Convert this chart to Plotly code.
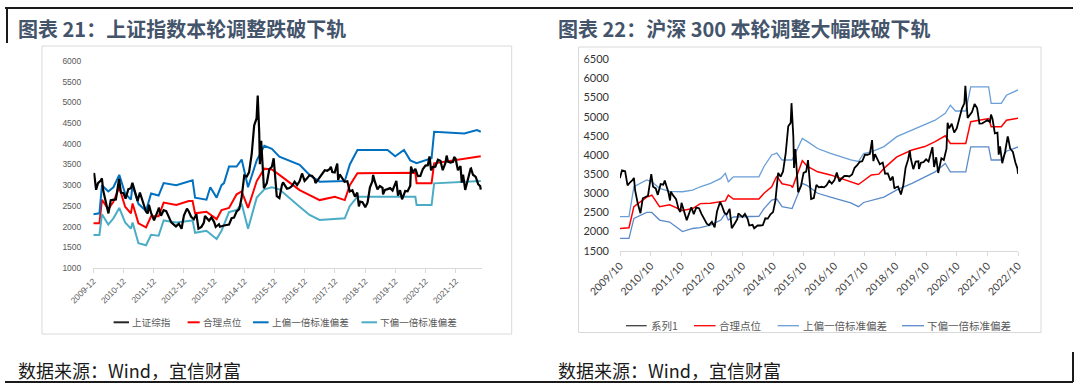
import plotly.graph_objects as go

W, H = 1080, 387

# ---------------- Chart 21: 上证指数 ----------------
sh_dates = ["2009-12-31","2010-01-11","2010-02-03","2010-02-26","2010-03-31","2010-04-14","2010-04-30","2010-05-31","2010-07-02","2010-07-30","2010-08-31","2010-09-30","2010-11-08","2010-11-30","2010-12-31",
"2011-01-25","2011-02-28","2011-03-31","2011-04-18","2011-05-31","2011-06-20","2011-07-18","2011-08-31","2011-09-30","2011-10-21","2011-11-04","2011-11-30","2011-12-31",
"2012-01-05","2012-02-29","2012-03-02","2012-03-29","2012-04-30","2012-05-31","2012-06-29","2012-07-31","2012-08-31","2012-09-26","2012-10-31","2012-12-03","2012-12-31",
"2013-02-06","2013-02-28","2013-03-29","2013-04-30","2013-05-31","2013-06-25","2013-07-31","2013-08-30","2013-09-12","2013-10-31","2013-11-29","2013-12-31",
"2014-01-20","2014-02-28","2014-03-12","2014-04-30","2014-05-30","2014-06-30","2014-07-31","2014-08-29","2014-09-30","2014-10-31","2014-11-28","2014-12-31",
"2015-01-30","2015-02-27","2015-03-31","2015-04-30","2015-05-29","2015-06-12","2015-06-30","2015-07-08","2015-07-24","2015-08-26","2015-09-30","2015-10-30","2015-11-30","2015-12-22",
"2016-01-28","2016-02-29","2016-03-31","2016-04-13","2016-05-31","2016-06-30","2016-07-29","2016-08-31","2016-09-30","2016-10-31","2016-11-29","2016-12-30",
"2017-01-26","2017-02-28","2017-03-31","2017-04-28","2017-05-11","2017-06-30","2017-07-31","2017-08-31","2017-09-29","2017-10-31","2017-11-13","2017-11-30","2017-12-29",
"2018-01-29","2018-02-09","2018-02-28","2018-03-30","2018-04-27","2018-05-31","2018-06-29","2018-07-31","2018-08-31","2018-09-28","2018-10-18","2018-10-31","2018-11-30","2018-12-28",
"2019-01-03","2019-01-31","2019-02-28","2019-03-29","2019-04-08","2019-04-30","2019-05-31","2019-06-28","2019-07-31","2019-08-06","2019-08-30","2019-09-30","2019-10-31","2019-11-29","2019-12-31",
"2020-01-14","2020-02-03","2020-02-28","2020-03-23","2020-04-30","2020-05-29","2020-06-30","2020-07-09","2020-07-31","2020-08-31","2020-09-30","2020-10-30","2020-11-30","2020-12-31",
"2021-01-29","2021-02-18","2021-03-09","2021-03-31","2021-04-30","2021-05-31","2021-06-30","2021-07-28","2021-08-31","2021-09-13","2021-09-30","2021-10-29","2021-11-30","2021-12-13","2021-12-31",
"2022-01-28","2022-02-28","2022-03-15","2022-03-31","2022-04-26","2022-05-31","2022-06-30","2022-07-05","2022-07-29","2022-08-31","2022-09-30","2022-10-24","2022-10-31"]
sh_close = [3277,3273,2890,3051,3109,3166,2870,2592,2319,2638,2638,2656,3159,2820,2808,
2677,2905,2928,3057,2743,2621,2820,2568,2359,2317,2528,2333,2199,
2148,2428,2460,2262,2396,2373,2225,2103,2047,2004,2069,1949,2269,
2434,2366,2237,2178,2301,1951,1994,2098,2255,2141,2220,2116,
1991,2056,1997,2026,2039,2048,2202,2217,2364,2420,2683,3235,
3210,3310,3748,4442,4612,5166,4277,3507,4070,2927,3053,3383,3446,3651,
2735,2688,3004,3066,2917,2930,2979,3085,3005,3100,3283,3104,
3159,3242,3223,3155,3052,3192,3273,3361,3349,3393,3447,3317,3307,
3523,3129,3259,3169,3082,3095,2847,2876,2725,2821,2486,2603,2588,2494,
2464,2585,2941,3091,3247,3078,2899,2979,2933,2778,2886,2905,2929,2872,3050,
3106,2746,2880,2660,2860,2852,2985,3450,3310,3396,3218,3225,3392,3473,
3483,3696,3360,3442,3447,3615,3591,3362,3544,3715,3568,3547,3564,3682,3640,
3361,3462,3064,3252,2886,3186,3399,3405,3253,3202,3024,2978,2893]

sh_fair_dates = ["2009-12-31","2010-03-15","2010-04-15","2010-06-30","2010-08-31","2010-11-10","2011-01-20","2011-03-31","2011-04-20","2011-06-30","2011-09-30","2011-11-30","2012-02-29","2012-04-30","2012-09-30","2013-02-28","2013-04-15","2013-05-15","2013-09-30","2014-01-31","2014-03-31","2014-06-30","2014-09-30","2014-11-30","2015-02-15","2015-05-31","2015-08-31","2015-11-30","2016-02-29","2016-10-31","2017-06-30","2017-12-31","2018-04-30","2018-06-30","2018-09-30","2020-08-31","2020-09-15","2021-03-15","2021-04-15","2022-09-15","2022-10-31"]
sh_fair = [2080,2080,2650,2420,2600,2950,2480,2320,2560,2080,1980,2250,2250,2580,2520,2620,2620,2320,2360,2180,2400,2450,2780,2850,2450,3100,3400,3380,3250,2880,2640,2720,2640,3000,3290,3300,3045,3045,3530,3690,3700]

sh_up_dates = ["2009-12-31","2010-03-15","2010-04-15","2010-06-30","2010-08-31","2010-11-10","2011-01-20","2011-03-31","2011-04-20","2011-06-30","2011-09-30","2011-11-30","2012-02-29","2012-04-30","2012-09-30","2013-02-28","2013-04-15","2013-05-15","2013-09-30","2013-11-15","2014-01-31","2014-03-31","2014-04-30","2014-06-30","2014-09-30","2014-11-30","2015-02-15","2015-05-31","2015-08-31","2015-11-30","2016-02-29","2016-10-31","2017-02-28","2017-06-30","2018-04-30","2018-06-30","2018-09-30","2019-09-30","2019-12-31","2020-04-15","2020-06-30","2020-09-15","2021-03-15","2021-04-15","2022-04-15","2022-09-15","2022-10-31"]
sh_up = [2300,2320,3000,2850,2950,3250,2800,2650,3000,2550,2380,2800,2750,3050,3000,3100,3120,2700,2650,2950,2700,3000,3050,3450,3450,3620,2950,3600,3950,3880,3690,3490,3245,3085,3100,3500,3850,3850,3700,3850,3600,3530,3650,4290,4250,4330,4290]

sh_dn_dates = ["2009-12-31","2010-03-15","2010-04-15","2010-06-30","2010-08-31","2010-11-10","2011-01-20","2011-03-31","2011-04-20","2011-06-30","2011-09-30","2011-11-30","2012-02-29","2012-04-30","2012-09-30","2013-02-28","2013-04-15","2013-05-15","2013-09-30","2014-01-31","2014-03-31","2014-06-30","2014-09-30","2014-11-30","2015-02-15","2015-05-31","2015-08-31","2015-11-30","2016-02-29","2016-10-31","2017-02-28","2017-06-30","2018-04-30","2018-06-30","2018-09-30","2020-08-31","2020-09-15","2021-03-15","2021-04-15","2022-10-31"]
sh_dn = [1800,1800,2300,2050,2200,2450,2100,1950,2100,1600,1550,1800,1780,2150,2100,2150,2150,1850,1900,1700,1900,2350,2400,2550,1950,2700,2900,2950,2900,2480,2280,2160,2200,2500,2720,2720,2520,2520,3045,3100]

sh_names = ["上证综指", "合理点位", "上偏一倍标准偏差", "下偏一倍标准偏差"]
sh_colors = ["#000000", "#ff0000", "#0070c0", "#4bacc6"]
sh_ticks = ["2009-12-31","2010-12-31","2011-12-31","2012-12-31","2013-12-31","2014-12-31","2015-12-31","2016-12-31","2017-12-31","2018-12-31","2019-12-31","2020-12-31","2021-12-31"]
sh_ticktext = ["2009-12","2010-12","2011-12","2012-12","2013-12","2014-12","2015-12","2016-12","2017-12","2018-12","2019-12","2020-12","2021-12"]

# ---------------- Chart 22: 沪深300 ----------------
hs_dates = ["2009-10-30","2009-11-24","2009-12-31","2010-01-29","2010-02-26","2010-03-31","2010-04-15","2010-04-30","2010-05-31","2010-07-02","2010-07-30","2010-08-31","2010-09-30","2010-11-08","2010-11-30","2010-12-31",
"2011-01-25","2011-02-28","2011-03-31","2011-04-18","2011-05-31","2011-06-20","2011-06-30","2011-07-29","2011-08-31","2011-09-30","2011-10-21","2011-11-04","2011-11-30","2011-12-30",
"2012-01-05","2012-02-29","2012-03-29","2012-04-27","2012-05-31","2012-06-29","2012-07-31","2012-08-31","2012-09-26","2012-10-31","2012-12-03","2012-12-31",
"2013-02-06","2013-02-28","2013-03-29","2013-04-26","2013-05-31","2013-06-25","2013-07-31","2013-08-30","2013-09-12","2013-10-31","2013-11-29","2013-12-31",
"2014-01-20","2014-02-28","2014-03-20","2014-04-30","2014-05-30","2014-06-30","2014-07-31","2014-08-29","2014-09-30","2014-10-31","2014-11-28","2014-12-31",
"2015-01-30","2015-02-27","2015-03-31","2015-04-30","2015-05-29","2015-06-08","2015-06-30","2015-07-08","2015-07-24","2015-08-26","2015-09-30","2015-10-30","2015-11-30","2015-12-22",
"2016-01-28","2016-02-29","2016-03-31","2016-04-29","2016-05-31","2016-06-30","2016-07-29","2016-08-31","2016-09-30","2016-10-31","2016-11-29","2016-12-30",
"2017-01-26","2017-02-28","2017-03-31","2017-04-28","2017-05-31","2017-06-30","2017-07-31","2017-08-31","2017-09-29","2017-10-31","2017-11-30","2017-12-29",
"2018-01-24","2018-02-09","2018-02-28","2018-03-30","2018-04-27","2018-05-31","2018-06-29","2018-07-31","2018-08-31","2018-09-28","2018-10-18","2018-10-31","2018-11-30","2018-12-28",
"2019-01-03","2019-01-31","2019-02-28","2019-03-29","2019-04-19","2019-04-30","2019-05-31","2019-06-28","2019-07-31","2019-08-06","2019-08-30","2019-09-30","2019-10-31","2019-11-29","2019-12-31",
"2020-01-14","2020-02-03","2020-02-28","2020-03-23","2020-04-30","2020-05-29","2020-06-30","2020-07-13","2020-07-31","2020-08-31","2020-09-30","2020-10-30","2020-11-30","2020-12-31",
"2021-01-29","2021-02-10","2021-03-09","2021-03-31","2021-04-30","2021-05-31","2021-06-30","2021-07-28","2021-08-31","2021-09-30","2021-10-29","2021-11-30","2021-12-13","2021-12-31",
"2022-01-28","2022-02-28","2022-03-15","2022-03-31","2022-04-26","2022-05-31","2022-06-30","2022-07-05","2022-07-29","2022-08-31","2022-09-30","2022-10-24","2022-10-31"]
hs_close = [3396,3600,3575,3204,3281,3346,3403,3067,2732,2479,2869,2903,2936,3500,3170,3128,
2959,3239,3224,3331,3027,2811,3044,2937,2849,2584,2513,2753,2557,2346,
2298,2634,2455,2626,2611,2462,2333,2205,2168,2254,2108,2523,
2774,2674,2495,2448,2593,2088,2210,2322,2475,2379,2460,2331,
2158,2178,2087,2158,2158,2165,2346,2338,2450,2508,2808,3533,
3434,3572,4051,4749,4840,5354,4473,3663,4153,3026,3203,3534,3566,3866,
2853,2877,3218,3156,3170,3154,3204,3327,3253,3336,3541,3311,
3387,3452,3456,3439,3492,3666,3737,3822,3837,4006,4006,4031,
4389,3840,4023,3899,3757,3802,3510,3518,3335,3438,3120,3153,3172,3011,
2965,3202,3670,3872,4120,3913,3630,3826,3836,3634,3799,3815,3886,3828,4097,
4204,3688,3940,3530,3912,3868,4164,4840,4695,4817,4588,4696,4960,5212,
5352,5808,4970,5049,5124,5332,5224,4822,4828,4866,4909,4865,5055,4940,
4564,4582,4010,4223,3785,4091,4485,4450,4170,4079,3804,3651,3508]

hs_fair_dates = ["2009-10-31","2010-02-15","2010-04-15","2010-09-15","2010-11-15","2011-02-15","2011-06-15","2011-11-15","2012-03-15","2012-06-15","2012-10-15","2013-04-10","2013-05-15","2013-07-15","2014-05-15","2014-07-15","2014-10-15","2014-12-15","2015-02-15","2015-06-01","2015-06-20","2015-10-15","2015-12-15","2016-04-15","2016-09-15","2017-01-15","2017-05-15","2017-08-15","2018-01-15","2018-04-15","2018-06-15","2018-11-15","2019-05-15","2019-10-15","2020-02-15","2020-06-15","2020-08-15","2021-02-15","2021-04-15","2021-11-15","2021-12-15","2022-04-15","2022-06-15","2022-10-31"]
hs_fair = [2083,2100,2650,2900,2950,2650,2700,2550,2600,2730,2740,2800,2950,2850,2850,3000,3170,3450,3250,3200,3150,3850,3700,3560,3480,3390,3300,3230,3480,3500,3650,3950,4130,4220,4350,4500,4300,4300,4870,4950,4740,4740,4910,4960]

hs_up_dates = ["2009-10-31","2010-02-15","2010-04-15","2010-09-15","2010-11-15","2011-02-15","2011-06-15","2011-11-15","2012-03-15","2012-06-15","2012-10-15","2013-02-15","2013-04-10","2013-05-15","2013-07-15","2014-05-15","2014-07-15","2014-10-15","2014-12-15","2015-02-15","2015-06-15","2015-10-15","2015-12-15","2016-04-15","2016-09-15","2017-01-15","2017-05-15","2017-08-15","2017-10-15","2018-01-15","2018-06-15","2018-11-15","2019-05-15","2019-10-15","2020-02-15","2020-06-15","2020-08-15","2020-10-15","2021-02-15","2021-04-15","2021-11-15","2021-12-15","2022-04-15","2022-06-15","2022-10-31"]
hs_up = [2390,2390,3170,3350,3300,3130,3050,3040,3085,3170,3260,3390,3520,3300,3430,3430,3700,4000,4050,3870,3870,4430,4350,4170,4040,3950,3870,3830,4040,4080,4220,4480,4650,4780,4910,5090,5300,5150,5150,5780,5780,5350,5350,5560,5700]

hs_dn_dates = ["2009-10-31","2010-02-15","2010-04-15","2010-09-15","2010-11-15","2011-02-15","2011-06-15","2011-11-15","2012-03-15","2012-06-15","2012-10-15","2013-02-15","2013-04-10","2013-05-15","2013-07-15","2014-05-15","2014-07-15","2014-10-15","2014-12-15","2015-02-15","2015-06-15","2015-10-15","2015-12-15","2016-04-15","2016-09-15","2017-01-15","2017-05-15","2017-08-15","2017-10-15","2018-06-15","2018-11-15","2019-05-15","2019-10-15","2020-02-15","2020-06-15","2020-08-15","2021-02-15","2021-04-15","2021-11-15","2021-12-15","2022-04-15","2022-06-15","2022-10-31"]
hs_dn = [1820,1820,2345,2500,2500,2300,2250,2000,2080,2100,2170,2300,2475,2300,2380,2400,2600,2820,2850,2650,2600,3260,3200,3000,2900,2820,2750,2650,2760,2900,3090,3260,3430,3560,3780,3560,3560,4210,4210,3870,3870,4100,4210]

hs_names = ["系列1", "合理点位", "上偏一倍标准偏差", "下偏一倍标准偏差"]
hs_colors = ["#000000", "#ff0000", "#6a9fd8", "#5b8bc9"]
hs_ticks = ["%d-10-31" % y for y in range(2009, 2023)]
hs_ticktext = ["2009/10","2010/10","2011/10","2012/10","2013/10","2014/10","2015/10","2016/10","2017/10","2018/10","2019/10","2020/10","2021/10","2022/10"]

titles = ["图表 21：上证指数本轮调整跌破下轨", "图表 22：沪深 300 本轮调整大幅跌破下轨"]
source = "数据来源：Wind，宜信财富"

CJK = "Noto Sans CJK SC"

def px(x):
    return x / W

def py(y):
    return 1 - y / H

fig = go.Figure()

sh_series = [(sh_dates, sh_close), (sh_fair_dates, sh_fair), (sh_up_dates, sh_up), (sh_dn_dates, sh_dn)]
sh_widths = [2.2, 2, 2, 2]
traces_l = []
for (d, v), n, c, w in zip(sh_series, sh_names, sh_colors, sh_widths):
    traces_l.append(go.Scatter(x=d, y=v, name=n, mode="lines", line=dict(color=c, width=w),
                               xaxis="x", yaxis="y", showlegend=False))
for t in traces_l[1:] + traces_l[:1]:
    fig.add_trace(t)

hs_series = [(hs_dates, hs_close), (hs_fair_dates, hs_fair), (hs_up_dates, hs_up), (hs_dn_dates, hs_dn)]
hs_widths = [1.8, 1.5, 1.3, 1.3]
traces_r = []
for (d, v), n, c, w in zip(hs_series, hs_names, hs_colors, hs_widths):
    traces_r.append(go.Scatter(x=d, y=v, name=n, mode="lines", line=dict(color=c, width=w),
                               xaxis="x2", yaxis="y2", showlegend=False))
for t in traces_r[1:] + traces_r[:1]:
    fig.add_trace(t)

axis_common = dict(showgrid=False, zeroline=False, automargin=False)
fig.update_layout(
    width=W, height=H, margin=dict(l=0, r=0, t=0, b=0, autoexpand=False),
    paper_bgcolor="white", plot_bgcolor="white", showlegend=False,
    xaxis=dict(domain=[px(93.3), px(482)], anchor="y", type="date",
               range=["2009-12-31", "2022-11-15"], tickvals=sh_ticks, ticktext=sh_ticktext,
               tickangle=-45, showline=True, linecolor="#d9d9d9", linewidth=1,
               ticks="outside", ticklen=4, tickcolor="#d9d9d9",
               tickfont=dict(family="Liberation Sans Narrow, Liberation Sans, Arial", size=8.5, color="#595959"),
               **axis_common),
    yaxis=dict(domain=[py(268), py(61)], anchor="x", range=[1000, 6000], tick0=1000, dtick=500,
               showline=False, ticks="", ticklabelstandoff=11,
               tickfont=dict(family="Liberation Sans Narrow, Liberation Sans, Arial", size=8.5, color="#595959"),
               **axis_common),
    xaxis2=dict(domain=[px(620), px(1018)], anchor="y2", type="date",
                range=["2009-10-31", "2022-10-31"], tickvals=hs_ticks, ticktext=hs_ticktext,
                tickangle=-45, showline=True, linecolor="#d9d9d9", linewidth=1,
                ticks="outside", ticklen=4, tickcolor="#d9d9d9",
                tickfont=dict(family="Lato, Noto Sans, Arial", size=10.5, color="#404040"),
                **axis_common),
    yaxis2=dict(domain=[py(250.7), py(59.3)], anchor="x2", range=[1500, 6500], tick0=1500, dtick=500,
                showline=False, ticks="", ticklabelstandoff=10,
                tickfont=dict(family="Lato, Noto Sans, Arial", size=11, color="#333333"),
                **axis_common),
)

shapes = []
annotations = []

# panel boxes
shapes.append(dict(type="rect", xref="paper", yref="paper", x0=px(42), x1=px(511.7), y0=py(334), y1=py(46),
                   line=dict(color="#d9d9d9", width=1), layer="below"))
shapes.append(dict(type="rect", xref="paper", yref="paper", x0=px(578.5), x1=px(1041), y0=py(332.5), y1=py(47),
                   line=dict(color="#d9d9d9", width=1), layer="below"))

# frame lines
frame = [((5, 8), (1073, 8)), ((7, 8), (7, 43)), ((5, 382), (1073, 382)), ((1073, 352), (1073, 382))]
for (xa, ya), (xb, yb) in frame:
    shapes.append(dict(type="line", xref="paper", yref="paper", x0=px(xa), x1=px(xb), y0=py(ya), y1=py(yb),
                       line=dict(color="#1a1a1a", width=2)))

# titles
for x0, t in zip([16, 556], titles):
    annotations.append(dict(x=px(x0), y=py(28.5), xref="paper", yref="paper", xanchor="left", yanchor="middle",
                            text="<b>%s</b>" % t, showarrow=False,
                            font=dict(family=CJK, size=20, color="#44546a")))
# sources
for x0 in [16, 556]:
    annotations.append(dict(x=px(x0), y=py(369.5), xref="paper", yref="paper", xanchor="left", yanchor="middle",
                            text=source, showarrow=False,
                            font=dict(family=CJK, size=18, color="#1a1a1a")))

# manual legends
leg_l = [(113.6, 129, 130), (187.6, 199.7, 200.7), (253, 268.6, 269.6), (361.5, 377, 378)]
for (a, b, tx), n, c in zip(leg_l, sh_names, sh_colors):
    shapes.append(dict(type="line", xref="paper", yref="paper", x0=px(a), x1=px(b), y0=py(322.3), y1=py(322.3),
                       line=dict(color=c if c != "#000000" else "#262626", width=2)))
    annotations.append(dict(x=px(tx), y=py(322.3), xref="paper", yref="paper", xanchor="left", yanchor="middle",
                            text=n, showarrow=False, font=dict(family=CJK, size=9.6, color="#595959")))
leg_r = [(626, 646.7, 648.5), (694, 715.6, 717), (777.6, 799, 800.7), (902, 924, 924.5)]
for (a, b, tx), n, c in zip(leg_r, hs_names, hs_colors):
    shapes.append(dict(type="line", xref="paper", yref="paper", x0=px(a), x1=px(b), y0=py(325.7), y1=py(325.7),
                       line=dict(color=c if c != "#000000" else "#404040", width=1.3)))
    annotations.append(dict(x=px(tx), y=py(325.7), xref="paper", yref="paper", xanchor="left", yanchor="middle",
                            text=n, showarrow=False, font=dict(family=CJK, size=10.5, color="#595959")))

fig.update_layout(shapes=shapes, annotations=annotations)
fig.write_html("out.html", config={"displayModeBar": False},
               post_script="document.body.style.margin='0';document.body.style.overflow='hidden';")
